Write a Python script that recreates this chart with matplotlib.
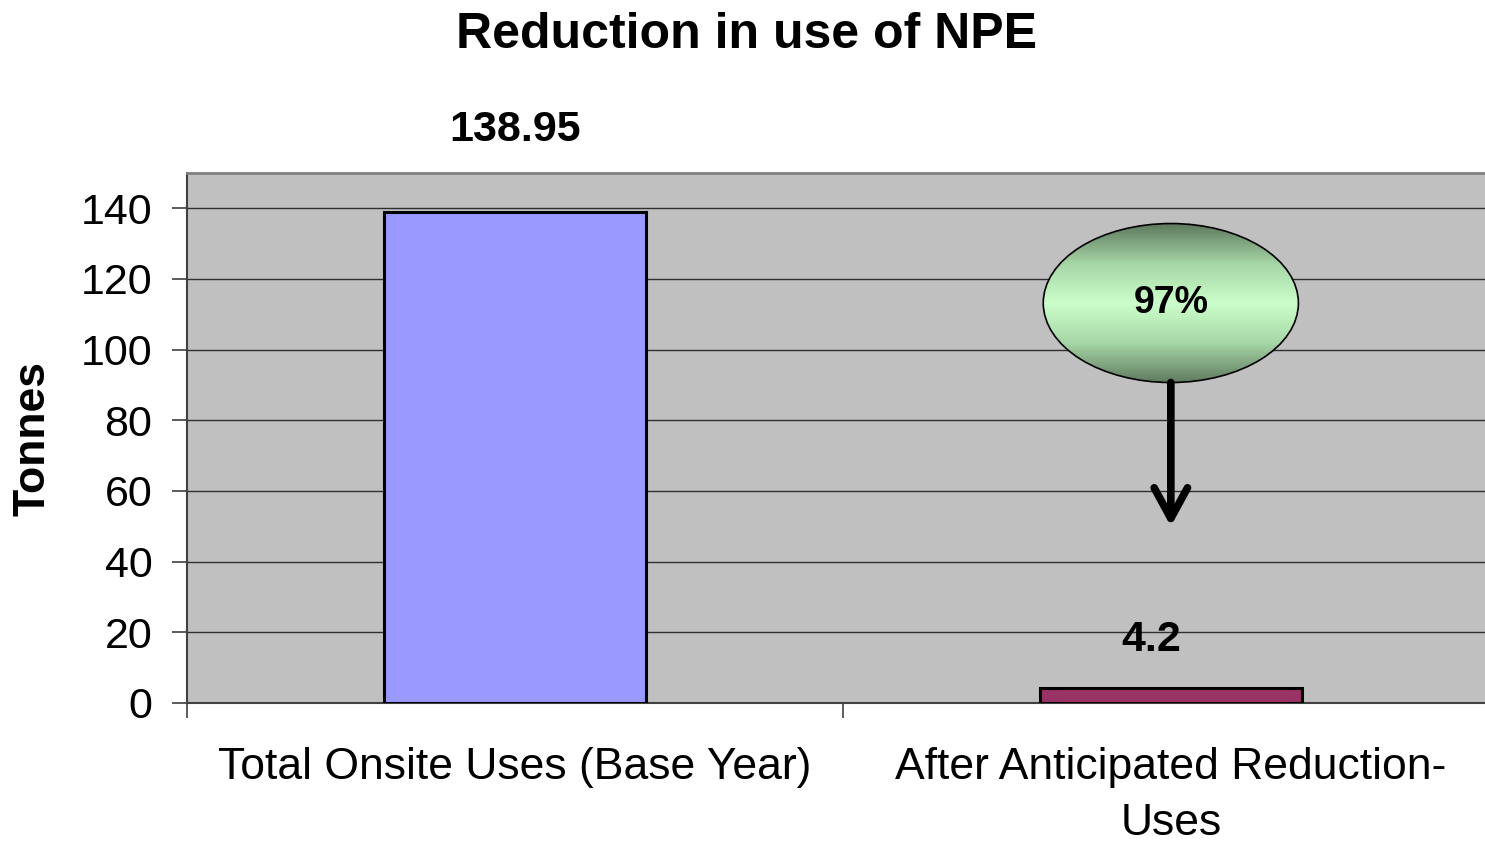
import matplotlib
matplotlib.use("Agg")
import matplotlib.pyplot as plt
import numpy as np
from matplotlib.patches import Ellipse
from matplotlib.colors import LinearSegmentedColormap

categories = ["Total Onsite Uses (Base Year)", "After Anticipated Reduction-\nUses"]
values = [138.95, 4.2]
value_labels = ["138.95", "4.2"]
bar_colors = ["#9999ff", "#993366"]
yticks = [0, 20, 40, 60, 80, 100, 120, 140]
reduction_label = "97%"

plt.rcParams['font.family'] = ['Liberation Sans', 'DejaVu Sans']

fig = plt.figure(figsize=(14.85, 8.42), dpi=100)
ax = fig.add_axes([187/1485, 139/842, 1 - 187/1485, (703-173)/842])
ax.set_facecolor("#c0c0c0")

x = np.arange(len(categories))
ax.set_xlim(-0.5, 1.479)
ax.set_ylim(0, 150)
ax.set_yticks(yticks)
for t in yticks[1:]:
    ax.axhline(t, color="#303030", lw=1.0, zorder=1)

bars = ax.bar(x, values, width=0.4, color=bar_colors, edgecolor="black", linewidth=2.2, zorder=3)

# data labels
offsets = [59, 35]
dx = [0, -14]
for xi, v, lab, oy, ox in zip(x, values, value_labels, offsets, dx):
    ax.annotate(lab, xy=(xi, v), xytext=(ox, oy), textcoords="offset points",
                ha="center", va="center", fontsize=31, fontweight="bold",
                annotation_clip=False)

ax.set_xticks([-0.5, 0.5])
ax.set_xticklabels([])
ax.set_xticks(x, minor=True)
ax.set_xticklabels(categories, minor=True, fontsize=32, linespacing=1.45)
ax.tick_params(axis="x", which="minor", length=0, pad=32)
ax.tick_params(axis="x", which="major", length=11, width=1.2, color="#404040", direction="out")
ax.tick_params(axis="y", length=11, width=1.2, color="#404040", labelsize=31, pad=14)
fig.text(33/1485, 1 - 438/842, "Tonnes", rotation=90, ha="center", va="center",
         fontsize=32, fontweight="bold")

ax.spines["right"].set_visible(False)
ax.spines["top"].set_color("#808080")
ax.spines["top"].set_linewidth(2)
ax.spines["left"].set_color("#404040")
ax.spines["left"].set_linewidth(1.5)
ax.spines["bottom"].set_color("#404040")
ax.spines["bottom"].set_linewidth(1.5)

# gradient ellipse annotation
ecx, ecy, ew, eh = 1.0, 113.2, 0.389, 45.0
ell = Ellipse((ecx, ecy), ew, eh, facecolor="none", edgecolor="black", lw=1.2, zorder=6)
ax.add_patch(ell)
cmap = LinearSegmentedColormap.from_list("g", ["#5f7a5f", "#a6d6a6", "#ccffcc", "#a6d6a6", "#5f7a5f"])
grad = np.linspace(0, 1, 256).reshape(-1, 1)
im = ax.imshow(grad, cmap=cmap, aspect="auto", extent=(ecx - ew/2, ecx + ew/2, ecy - eh/2, ecy + eh/2),
               zorder=5, interpolation="bilinear")
clip = Ellipse((ecx, ecy), ew, eh, transform=ax.transData)
im.set_clip_path(clip)
ax.set_xlim(-0.5, 1.479)
ax.set_ylim(0, 150)
ax.text(ecx, ecy, reduction_label, ha="center", va="center", fontsize=27, fontweight="bold", zorder=7)

ax.annotate("", xy=(ecx, 50.0), xytext=(ecx, ecy - eh/2),
            arrowprops=dict(arrowstyle="->,head_length=1.1,head_width=0.6", lw=5.5, color="black",
                            shrinkA=0, shrinkB=0, mutation_scale=20), zorder=7)

fig.suptitle("Reduction in use of NPE", x=(455+1038)/2/1485, y=1 - 35/842, va="center",
             fontsize=36, fontweight="bold")

fig.savefig("out.png", dpi=100)
